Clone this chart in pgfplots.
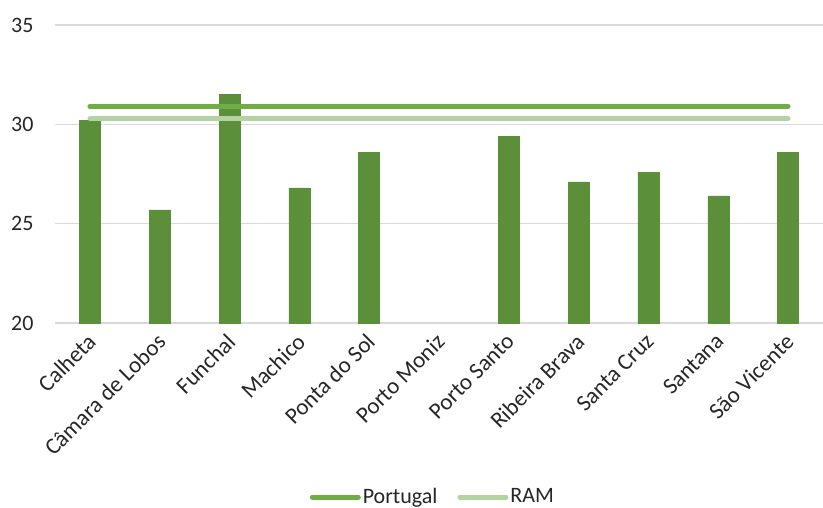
\documentclass[border=0pt]{standalone}
\usepackage{pgfplots}
\pgfplotsset{compat=1.18}
\usepackage{pgfplotstable}
\usepackage{fontspec}
\setmainfont{Carlito}
\definecolor{bargreen}{HTML}{5B8F3A}
\definecolor{ptgreen}{HTML}{70AD47}
\definecolor{ramgreen}{HTML}{B4D3A3}
\definecolor{gridgray}{HTML}{D9D9D9}
\pgfplotstableread{
x v
0 30.2
1 25.7
2 31.5
3 26.8
4 28.6
5 19.9
6 29.4
7 27.1
8 27.6
9 26.4
10 28.6
}\bars
\pgfplotstableread{
x base
0 20
1 20
2 20
3 20
4 20
5 20
6 20
7 20
8 20
9 20
10 20
}\basetab
\begin{document}
\fontsize{22}{26}\selectfont
\begin{tikzpicture}
\path[use as bounding box] (0,0) rectangle (823pt,507pt);
\pgfplotsset{
  common/.style={
    at={(55pt,184pt)}, anchor=south west,
    scale only axis, width=768pt, height=298pt,
    xmin=-0.5, xmax=10.5, ymin=20, ymax=35,
  }
}
\begin{axis}[common,
  ybar stacked, bar width=21pt, clip=false,
  axis x line*=bottom, axis y line*=left,
  x axis line style={draw=none},
  y axis line style={draw=none},
  ytick={20,25,30,35}, ymajorgrids, grid style={gridgray, line width=1.1pt},
  major tick length=0pt,
  xtick=data,
  xticklabels={Calheta, Câmara de Lobos, Funchal, Machico, Ponta do Sol, Porto Moniz, Porto Santo, Ribeira Brava, Santa Cruz, Santana, São Vicente},
  xticklabel style={xshift=-4pt, yshift=-9pt, rotate=45, anchor=north east, font=\fontsize{23}{27}\selectfont, text=black!85, inner sep=0pt},
  yticklabel style={font=\fontsize{22}{26}\selectfont, text=black!85, xshift=-14pt},
  /pgf/number format/assume math mode=true,
]
\addplot[draw=none, fill=none] table[x=x, y=base] {\basetab};
\addplot[fill=bargreen, draw=bargreen, line width=0.4pt] table[x=x, y expr=\thisrow{v}-20] {\bars};
\end{axis}
\begin{axis}[common, hide axis,
  legend style={at={(0.492,-0.584)}, anchor=center, draw=none, legend columns=2,
    font=\fontsize{22}{26}\selectfont, text=black!85,
    /tikz/every even column/.append style={column sep=18pt}},
  legend image code/.code={\draw[#1, line width=5pt, line cap=round] (0pt,0pt) -- (46pt,0pt);},
]
\addplot[ptgreen, line width=5pt, line cap=round] coordinates {(0,30.9) (10,30.9)};
\addlegendentry{Portugal}
\addplot[ramgreen, line width=5pt, line cap=round] coordinates {(0,30.3) (10,30.3)};
\addlegendentry{RAM}
\end{axis}
\end{tikzpicture}
\end{document}
